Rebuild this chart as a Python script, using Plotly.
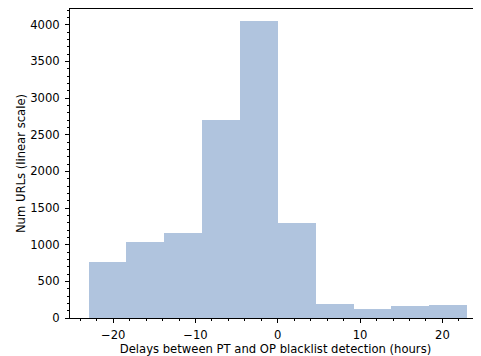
import plotly.graph_objects as go

bin_edges = [-23.0, -18.4, -13.8, -9.2, -4.6, 0.0, 4.6, 9.2, 13.8, 18.4, 23.0]
counts = [757, 1043, 1166, 2707, 4045, 1289, 194, 125, 157, 180]

centers = [(bin_edges[i] + bin_edges[i + 1]) / 2 for i in range(len(counts))]
widths = [bin_edges[i + 1] - bin_edges[i] for i in range(len(counts))]

font = dict(family="DejaVu Sans", size=11.6, color="#000000")

fig = go.Figure(
    go.Bar(
        x=centers,
        y=counts,
        width=widths,
        marker=dict(color="#B0C4DE", line=dict(width=0)),
        hoverinfo="x+y",
    )
)

# the page body has an 8px margin, so the figure is sized/offset to compensate
fig.update_layout(
    width=473,
    height=348,
    margin=dict(l=62, r=0, t=1, b=38),
    paper_bgcolor="white",
    plot_bgcolor="white",
    font=font,
    showlegend=False,
    bargap=0,
)

fig.update_xaxes(
    automargin=True,
    range=[-25.25, 24.69],
    tickmode="array",
    tickvals=[-20, -10, 0, 10, 20],
    ticktext=["\u221220", "\u221210", "0", "10", "20"],
    ticks="outside",
    ticklen=4,
    tickwidth=1,
    tickcolor="#000000",
    ticklabelstandoff=2,
    showline=True,
    linecolor="#000000",
    linewidth=1,
    mirror=True,
    showgrid=False,
    zeroline=False,
    minor=dict(dtick=2, tick0=0, ticks="outside", ticklen=2, tickwidth=1, tickcolor="#000000", showgrid=False),
    title=dict(text="Delays between PT and OP blacklist detection (hours)", font=font, standoff=0),
    tickfont=font,
)

fig.update_yaxes(
    automargin=True,
    range=[0, 4214],
    tickmode="linear",
    tick0=0,
    dtick=500,
    ticks="outside",
    ticklen=4,
    tickwidth=1,
    tickcolor="#000000",
    ticklabelstandoff=3,
    showline=True,
    linecolor="#000000",
    linewidth=1,
    mirror=False,
    showgrid=False,
    zeroline=False,
    minor=dict(dtick=100, tick0=0, ticks="outside", ticklen=2, tickwidth=1, tickcolor="#000000", showgrid=False),
    title=dict(text="Num URLs (linear scale)", font=font, standoff=2),
    tickfont=font,
)

fig.write_html("out.html")
